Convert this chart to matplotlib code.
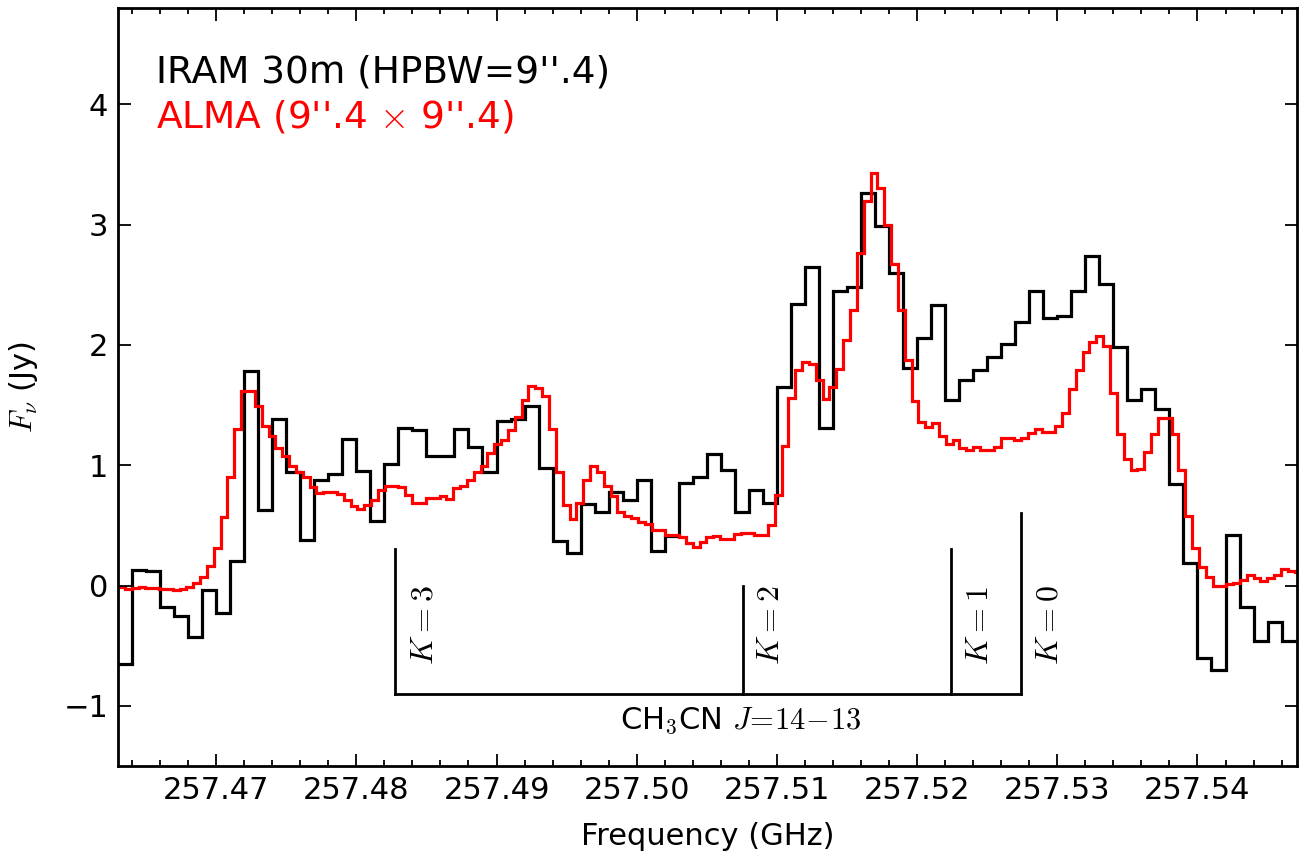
import numpy as np
import matplotlib
matplotlib.use('Agg')
import matplotlib.pyplot as plt
from matplotlib.ticker import MultipleLocator, FormatStrFormatter

plt.rcParams['font.family'] = ['DejaVu Sans']
plt.rcParams['mathtext.fontset'] = 'cm'

# IRAM 30m spectrum: 1 MHz channels from 257.463 GHz
iram_start = 257.463
iram_width = 0.001
iram_flux = [-0.65, 0.13, 0.12, -0.18, -0.25, -0.43, -0.04, -0.23, 0.20, 1.78,
             0.63, 1.38, 0.94, 0.38, 0.88, 0.93, 1.22, 0.95, 0.54, 1.01,
             1.31, 1.29, 1.08, 1.08, 1.30, 1.15, 0.94, 1.37, 1.38, 1.49,
             0.98, 0.37, 0.27, 0.68, 0.61, 0.78, 0.71, 0.875, 0.29, 0.41,
             0.85, 0.90, 1.09, 0.96, 0.61, 0.79, 0.69, 1.65, 2.34, 2.65,
             1.31, 2.45, 2.48, 3.26, 2.99, 2.60, 1.81, 2.06, 2.33, 1.54,
             1.71, 1.79, 1.90, 2.01, 2.19, 2.45, 2.22, 2.24, 2.45, 2.74,
             2.51, 1.98, 1.54, 1.63, 1.47, 0.84, 0.19, -0.60, -0.70, 0.42,
             -0.175, -0.46, -0.30, -0.46]

# ALMA spectrum smoothed to 9.4" beam: 0.488 MHz channels
alma_start = 257.463
alma_width = 0.000488
alma_flux = [-0.01, -0.03, -0.02, -0.01, -0.02, -0.02, -0.03, -0.03, -0.04, -0.03,
             -0.01, 0.02, 0.07, 0.16, 0.31, 0.57, 0.90, 1.30, 1.62, 1.62,
             1.49, 1.33, 1.24, 1.14, 1.08, 0.99, 0.94, 0.90, 0.82, 0.77,
             0.78, 0.78, 0.76, 0.71, 0.66, 0.64, 0.67, 0.71, 0.79, 0.83,
             0.83, 0.82, 0.75, 0.69, 0.69, 0.73, 0.73, 0.74, 0.72, 0.81,
             0.825, 0.875, 0.94, 0.99, 1.10, 1.18, 1.21, 1.29, 1.40, 1.54,
             1.66, 1.64, 1.575, 1.30, 0.94, 0.67, 0.55, 0.69, 0.88, 0.99,
             0.94, 0.825, 0.74, 0.61, 0.58, 0.56, 0.53, 0.51, 0.46, 0.46,
             0.42, 0.42, 0.40, 0.35, 0.32, 0.36, 0.40, 0.41, 0.39, 0.39,
             0.43, 0.44, 0.44, 0.42, 0.42, 0.50, 0.75, 1.16, 1.56, 1.79,
             1.86, 1.84, 1.71, 1.55, 1.65, 1.80, 2.04, 2.29, 2.76, 3.20,
             3.43, 3.30, 3.00, 2.67, 2.29, 1.875, 1.53, 1.36, 1.32, 1.35,
             1.24, 1.18, 1.21, 1.14, 1.125, 1.15, 1.13, 1.125, 1.15, 1.23,
             1.23, 1.21, 1.23, 1.27, 1.30, 1.28, 1.28, 1.325, 1.43, 1.63,
             1.79, 1.94, 2.02, 2.07, 1.99, 1.60, 1.26, 1.05, 0.96, 0.97,
             1.11, 1.26, 1.39, 1.39, 1.26, 0.96, 0.575, 0.31, 0.15, 0.07,
             0.00, 0.00, 0.01, 0.02, 0.05, 0.09, 0.06, 0.04, 0.06, 0.09,
             0.14, 0.12, 0.11]

# CH3CN J=14-13 K components
k_names = ['3', '2', '1', '0']
k_freq = [257.482792, 257.507562, 257.522428, 257.527384]
k_top = [0.3, 0.0, 0.3, 0.6]
bracket_y = -0.9

iram_edges = iram_start + iram_width * np.arange(len(iram_flux) + 1)
alma_edges = alma_start + alma_width * np.arange(len(alma_flux) + 1)

fig = plt.figure(figsize=(13.03, 8.6), dpi=100)
ax = fig.add_axes([118 / 1303, 94 / 860, 1179 / 1303, 758 / 860])

ax.stairs(iram_flux, iram_edges, baseline=None, color='black', lw=2.3)
ax.stairs(alma_flux, alma_edges, baseline=None, color='red', lw=2.3)

# line markers
for name, f, top in zip(k_names, k_freq, k_top):
    ax.plot([f, f], [bracket_y, top], color='black', lw=2)
    ax.text(f + 0.002, -0.33, rf'$K={name}$', rotation=90, fontsize=23,
            ha='center', va='center')
ax.plot([k_freq[0], k_freq[-1]], [bracket_y, bracket_y], color='black', lw=2)
ax.text(257.5074, -1.12, r'CH$_\mathsf{3}$CN $J\!=\!14\!-\!13$', fontsize=22,
        ha='center', va='center')

ax.text(0.032, 0.902, "IRAM 30m (HPBW=9''.4)", transform=ax.transAxes,
        fontsize=27, color='black', va='baseline')
ax.text(0.032, 0.842, r"ALMA (9''.4 $\times$ 9''.4)", transform=ax.transAxes,
        fontsize=27, color='red', va='baseline')

ax.set_xlim(257.463, 257.5471)
ax.set_ylim(-1.5, 4.8)
ax.set_xticks(np.arange(257.47, 257.5405, 0.01))
ax.xaxis.set_major_formatter(FormatStrFormatter('%.2f'))
ax.xaxis.set_minor_locator(MultipleLocator(0.002))
ax.set_yticks([-1, 0, 1, 2, 3, 4])

ax.tick_params(which='both', direction='in', top=True, right=True,
               labelsize=22, width=1.3)
ax.tick_params(which='major', length=9, pad=7)
ax.tick_params(which='minor', length=4.5)
for s in ax.spines.values():
    s.set_linewidth(2)

ax.set_xlabel('Frequency (GHz)', fontsize=22)
ax.set_ylabel(r'$F_\nu$ (Jy)', fontsize=22)
ax.xaxis.set_label_coords(0.5, -0.074)
ax.yaxis.set_label_coords(-0.066, 0.5)

fig.savefig('out.png', dpi=100, facecolor='white')
